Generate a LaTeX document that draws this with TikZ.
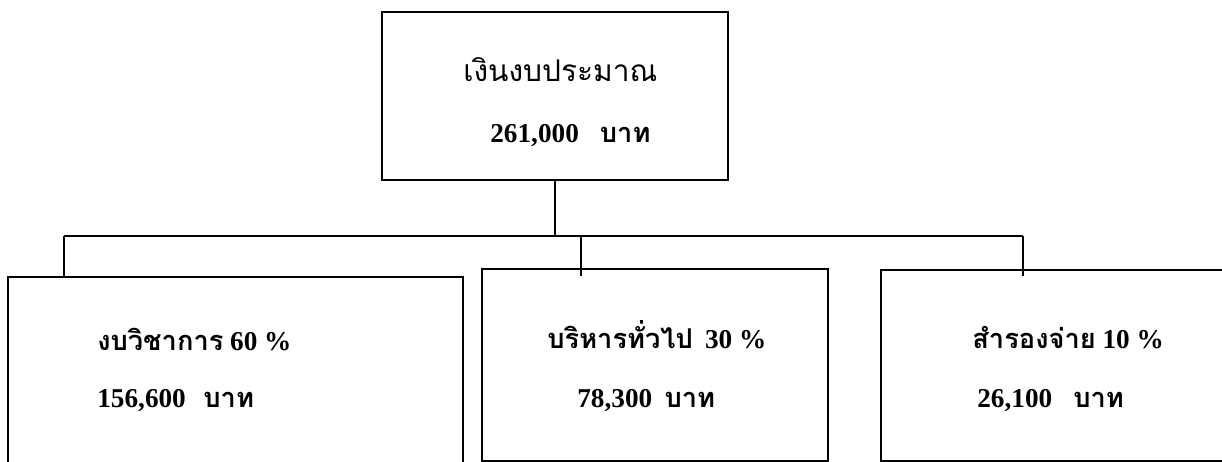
\documentclass[tikz,border=0pt]{standalone}
\usepackage{fontspec}
\setmainfont{Liberation Serif}
\newfontfamily\thaifont[Script=Thai]{Loma}
\newcommand{\thtxt}[1]{{\thaifont #1}}
\usetikzlibrary{positioning}

\begin{document}
\begin{tikzpicture}[x=0.02cm,y=-0.02cm,
  box/.style={draw,line width=1pt,inner sep=0pt,outer sep=0pt},
  link/.style={line width=1pt},
  lbl/.style={anchor=base west,inner sep=0pt,font=\bfseries\fontsize{15.5}{18}\selectfont}]
 \useasboundingbox (0,0) rectangle (1222,462);
 \clip (0,0) rectangle (1222,462);
 % boxes
 \node[box,minimum width=6.92cm,minimum height=3.36cm] (budget) at (555,96) {};
 \node[box,minimum width=9.1cm,minimum height=4.06cm] (acad) at (235.5,378.5) {};
 \node[box,minimum width=6.92cm,minimum height=3.84cm] (admin) at (655,365) {};
 \node[box,minimum width=7.18cm,minimum height=3.82cm] (resv) at (1060.5,365.5) {};
 % connectors
 \coordinate (busL) at (64,236);
 \coordinate (busR) at (1023,236);
 \coordinate (dropM) at (581,276);
 \coordinate (dropR) at (1023,276);
 \draw[link] (budget.south) -- (budget.south |- busL);
 \draw[link] (busL) -- (busR);
 \draw[link] (busL) -- (acad.north -| busL);
 \draw[link] (dropM |- busL) -- (dropM);
 \draw[link] (busR) -- (dropR);
 % texts
 \node[lbl,font=\fontsize{17}{20}\selectfont] (t1) at (463,82) {\thtxt{เงินงบประมาณ}};
 \node[lbl] (t2) at (490,143) {261,000\hspace{12pt}\thtxt{บาท}};
 \node[lbl] (a1) at (97,350) {\thtxt{งบวิชาการ} 60 \%};
 \node[lbl] (a2) at (97,407) {156,600\hspace{10pt}\thtxt{บาท}};
 \node[lbl] (m1) at (547,348) {\thtxt{บริหารทั่วไป}\hspace{7pt}30 \%};
 \node[lbl] (m2) at (577,407) {78,300\hspace{7pt}\thtxt{บาท}};
 \node[lbl] (r1) at (972,348) {\thtxt{สำรองจ่าย} 10 \%};
 \node[lbl] (r2) at (977,407) {26,100\hspace{12pt}\thtxt{บาท}};
\end{tikzpicture}
\end{document}
